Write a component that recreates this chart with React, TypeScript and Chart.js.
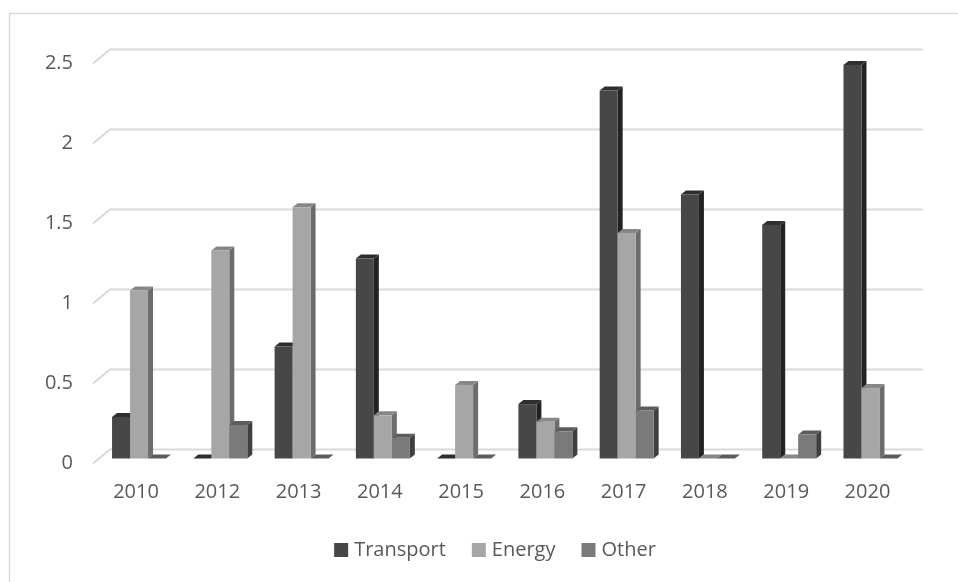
import { useEffect, useRef } from "react";
import { Chart, registerables } from "chart.js";

Chart.register(...registerables);

const categories = ["2010", "2012", "2013", "2014", "2015", "2016", "2017", "2018", "2019", "2020"];
const transport = [0.26, 0, 0.7, 1.25, 0, 0.34, 2.3, 1.65, 1.46, 2.46];
const energy = [1.05, 1.3, 1.57, 0.27, 0.46, 0.23, 1.41, 0, 0, 0.44];
const other = [0, 0.21, 0, 0.13, 0, 0.17, 0.3, 0, 0.15, 0];
const yTicks = [0, 0.5, 1, 1.5, 2, 2.5];
const seriesNames = ["Transport", "Energy", "Other"];

const FONT = "'Open Sans', 'Noto Sans', sans-serif";
const TEXT = "#595959";
const GRID = "#d9d9d9";

// face shades per series: front, side, top
const shades = [
  { front: "#474747", side: "#232323", top: "#2e2e2e" },
  { front: "#a6a6a6", side: "#6c6c6c", top: "#878787" },
  { front: "#7a7a7a", side: "#3f3f3f", top: "#5c5c5c" },
];

const DX = 5; // bar depth, horizontal
const DY = 4; // bar depth, vertical

const poly = (ctx: CanvasRenderingContext2D, pts: number[][], color: string) => {
  ctx.beginPath();
  ctx.moveTo(pts[0][0], pts[0][1]);
  for (let i = 1; i < pts.length; i++) ctx.lineTo(pts[i][0], pts[i][1]);
  ctx.closePath();
  ctx.fillStyle = color;
  ctx.fill();
};

const pseudo3d = {
  id: "pseudo3d",
  beforeDraw(chart: any) {
    const { ctx, width, height } = chart;
    ctx.save();
    ctx.fillStyle = "#ffffff";
    ctx.fillRect(0, 0, width, height);
    ctx.strokeStyle = GRID;
    ctx.lineWidth = 1.5;
    ctx.strokeRect(9.5, 13.5, width + 20, height + 20);
    ctx.restore();
  },
  beforeDatasetsDraw(chart: any) {
    const { ctx, chartArea } = chart;
    const y = chart.scales.y;
    const xFront = chartArea.left - 5.5;
    const xBack = chartArea.left + 11.5;
    const xEnd = chartArea.right + 12;
    ctx.save();
    ctx.strokeStyle = GRID;
    ctx.lineWidth = 2;
    yTicks.forEach((v) => {
      const py = y.getPixelForValue(v);
      ctx.beginPath();
      ctx.moveTo(xFront, py + 5);
      ctx.lineTo(xBack, py - 9);
      ctx.lineTo(xEnd, py - 9);
      ctx.stroke();
    });
    ctx.restore();
  },
  afterDatasetsDraw(chart: any) {
    const { ctx } = chart;
    ctx.save();
    for (let i = 0; i < categories.length; i++) {
      for (let d = 0; d < chart.data.datasets.length; d++) {
        const el = chart.getDatasetMeta(d).data[i];
        const { x, y, base, width } = el.getProps(["x", "y", "base", "width"], true);
        const l = x - width / 2;
        const r = x + width / 2;
        const s = shades[d];
        if (base - y > 0.5) {
          poly(ctx, [[r, y], [r + DX, y - DY], [r + DX, base - DY], [r, base]], s.side);
        }
        poly(ctx, [[l, y], [l + DX, y - DY], [r + DX, y - DY], [r, y]], s.top);
        if (base - y > 0.5) {
          ctx.fillStyle = s.front;
          ctx.fillRect(l, y, width, base - y);
        }
      }
    }
    ctx.restore();
  },
  afterDraw(chart: any) {
    const { ctx } = chart;
    ctx.save();
    ctx.font = `20px ${FONT}`;
    ctx.textBaseline = "middle";
    const box = 14;
    const gap = 6;
    const itemGap = 26;
    const widths = seriesNames.map((n) => ctx.measureText(n).width);
    const total = widths.reduce((a, w) => a + box + gap + w, 0) + itemGap * (seriesNames.length - 1);
    let x = 495 - total / 2;
    const cy = 550;
    seriesNames.forEach((n, k) => {
      ctx.fillStyle = shades[k].front;
      ctx.fillRect(x, cy - box / 2, box, box);
      ctx.fillStyle = TEXT;
      ctx.fillText(n, x + box + gap, cy);
      x += box + gap + widths[k] + itemGap;
    });
    ctx.restore();
  },
};

export default function App() {
  const ref = useRef<HTMLCanvasElement>(null);

  useEffect(() => {
    if (!ref.current) return;
    const chart = new Chart(ref.current, {
      type: "bar",
      data: {
        labels: categories,
        datasets: [
          { label: seriesNames[0], data: transport, backgroundColor: "rgba(0,0,0,0)" },
          { label: seriesNames[1], data: energy, backgroundColor: "rgba(0,0,0,0)" },
          { label: seriesNames[2], data: other, backgroundColor: "rgba(0,0,0,0)" },
        ],
      },
      options: {
        responsive: false,
        animation: false,
        events: [],
        layout: { padding: { top: 58.5, right: 46.9, left: 0, bottom: 0 } },
        datasets: { bar: { categoryPercentage: 0.664, barPercentage: 1 } },
        plugins: { legend: { display: false }, tooltip: { enabled: false } },
        scales: {
          x: {
            grid: { display: false, drawTicks: false },
            border: { display: false },
            ticks: {
              color: TEXT,
              font: { family: FONT, size: 20 },
              padding: 22,
              labelOffset: -3,
              maxRotation: 0,
              autoSkip: false,
            },
            afterFit: (s: any) => {
              s.height = 123.5;
            },
          },
          y: {
            min: 0,
            max: 2.5,
            grid: { display: false, drawTicks: false },
            border: { display: false },
            afterBuildTicks: (s: any) => {
              s.ticks = yTicks.map((v) => ({ value: v }));
            },
            ticks: {
              color: TEXT,
              font: { family: FONT, size: 20 },
              padding: 25.4,
              labelOffset: 5,
              callback: (v: any) => String(v),
            },
            afterFit: (s: any) => {
              s.width = 98.4;
            },
          },
        },
      },
      plugins: [pseudo3d],
    });
    return () => chart.destroy();
  }, []);

  return (
    <div style={{ position: "fixed", left: 0, top: 0, width: 958, height: 582, background: "#fff" }}>
      <canvas ref={ref} width={958} height={582} />
    </div>
  );
}
